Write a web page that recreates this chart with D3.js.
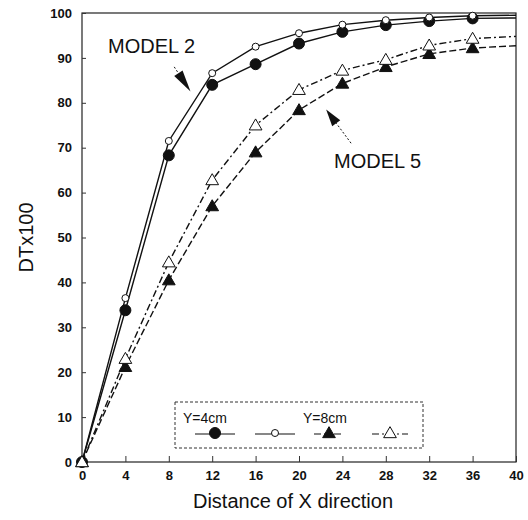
<!DOCTYPE html>
<html>
<head>
<meta charset="utf-8">
<script src="https://cdn.jsdelivr.net/npm/d3@7"></script>
<style>
  body { margin: 0; background: #fff; }
  text { font-family: "Liberation Sans", Arial, sans-serif; fill: #111; }
</style>
</head>
<body>
<svg id="chart"></svg>
<script>
const xValues = [0, 4, 8, 12, 16, 20, 24, 28, 32, 36, 40];
const m2y4 = [0, 33.8, 68.3, 84, 88.6, 93.2, 95.8, 97.3, 98.2, 98.8, 98.9];
const m2y8 = [0, 36.5, 71.5, 86.6, 92.5, 95.5, 97.4, 98.4, 99, 99.4, 99.5];
const m5y4 = [0, 21.2, 40.5, 57, 69, 78.4, 84.3, 88, 90.9, 92.2, 92.7];
const m5y8 = [0, 23, 44.5, 62.8, 75, 82.9, 87.2, 89.6, 92.8, 94.3, 94.8];
const xTicks = [0, 4, 8, 12, 16, 20, 24, 28, 32, 36, 40];
const yTicks = [0, 10, 20, 30, 40, 50, 60, 70, 80, 90, 100];

const width = 528, height = 520;
const margin = { top: 13, right: 12, bottom: 58, left: 82 };

const svg = d3.select("#chart").attr("width", width).attr("height", height);

const x = d3.scaleLinear().domain([0, 40]).range([margin.left, width - margin.right]);
const y = d3.scaleLinear().domain([0, 100]).range([height - margin.bottom, margin.top]);

// frame
svg.append("rect")
  .attr("x", x(0)).attr("y", y(100))
  .attr("width", x(40) - x(0)).attr("height", y(0) - y(100))
  .attr("fill", "none").attr("stroke", "#222").attr("stroke-width", 1.2);

// axes with inward ticks
const xAxis = svg.append("g")
  .attr("transform", `translate(0,${y(0)})`)
  .call(d3.axisBottom(x).tickValues(xTicks).tickSizeInner(-6).tickSizeOuter(0).tickPadding(9));
const yAxis = svg.append("g")
  .attr("transform", `translate(${x(0)},0)`)
  .call(d3.axisLeft(y).tickValues(yTicks).tickSizeInner(-4).tickSizeOuter(0).tickPadding(10));
[xAxis, yAxis].forEach(g => {
  g.select(".domain").remove();
  g.selectAll("line").attr("stroke", "#333");
  g.selectAll("text").attr("font-size", 13).attr("font-weight", "bold").attr("fill", "#111");
});

const series = [
  { values: m2y4, dash: null, marker: "circle", filled: true },
  { values: m2y8, dash: null, marker: "circle", filled: false },
  { values: m5y4, dash: "7,3", marker: "triangle", filled: true },
  { values: m5y8, dash: "7,3,2,3", marker: "triangle", filled: false }
];

const line = d3.line().x(d => x(d[0])).y(d => y(d[1]));
const triSym = d3.symbol().type(d3.symbolTriangle).size(70);

function drawMarker(g, s, px, py, scale) {
  if (s.marker === "circle") {
    g.append("circle").attr("cx", px).attr("cy", py)
      .attr("r", s.filled ? 5.5 * scale : 3.5 * scale)
      .attr("fill", s.filled ? "#111" : "#fff")
      .attr("stroke", "#111").attr("stroke-width", 1);
  } else {
    g.append("path").attr("d", triSym)
      .attr("transform", `translate(${px},${py + 1}) scale(${scale})`)
      .attr("fill", s.filled ? "#111" : "#fff")
      .attr("stroke", "#111").attr("stroke-width", 1);
  }
}

series.forEach(s => {
  const pts = xValues.map((xv, i) => [xv, s.values[i]]);
  svg.append("path").datum(pts)
    .attr("d", line)
    .attr("fill", "none").attr("stroke", "#111").attr("stroke-width", 1.4)
    .attr("stroke-dasharray", s.dash);
});
series.forEach(s => {
  const g = svg.append("g");
  xValues.forEach((xv, i) => {
    if (xv === 40) return;
    drawMarker(g, s, x(xv), y(s.values[i]), 1);
  });
});

// annotation arrows: dotted tail + long filled head
function arrow(tail, tip, headLen, headHalf) {
  const dx = tip[0] - tail[0], dy = tip[1] - tail[1];
  const len = Math.hypot(dx, dy), ux = dx / len, uy = dy / len;
  const bx = tip[0] - ux * headLen, by = tip[1] - uy * headLen;
  svg.append("line")
    .attr("x1", tail[0]).attr("y1", tail[1]).attr("x2", bx).attr("y2", by)
    .attr("stroke", "#111").attr("stroke-width", 1).attr("stroke-dasharray", "2,2");
  svg.append("path")
    .attr("d", `M${tip[0]},${tip[1]} L${bx - uy * headHalf},${by + ux * headHalf} L${bx + uy * headHalf},${by - ux * headHalf} Z`)
    .attr("fill", "#111");
}

svg.append("text").attr("x", 108).attr("y", 53)
  .attr("font-size", 20).text("MODEL 2");
arrow([x(8.5), y(88)], [x(10), y(82.5)], 22, 5);

svg.append("text").attr("x", 334).attr("y", 168)
  .attr("font-size", 20).text("MODEL 5");
arrow([x(24.8), y(71)], [x(22.5), y(78.5)], 17, 5);

// axis titles
svg.append("text")
  .attr("transform", `translate(33,${(y(0) + y(100)) / 2}) rotate(-90)`)
  .attr("text-anchor", "middle").attr("font-size", 20).text("DTx100");
svg.append("text")
  .attr("x", (x(0) + x(40)) / 2 - 6).attr("y", 508)
  .attr("text-anchor", "middle").attr("font-size", 20).text("Distance of X direction");

// legend
const lg = svg.append("g");
lg.append("rect").attr("x", 175).attr("y", 402).attr("width", 248).attr("height", 46)
  .attr("fill", "#fff").attr("stroke", "#333").attr("stroke-width", 1)
  .attr("stroke-dasharray", "3,2");
lg.append("text").attr("x", 183).attr("y", 423).attr("font-size", 14).text("Y=4cm");
lg.append("text").attr("x", 303).attr("y", 423).attr("font-size", 14).text("Y=8cm");
const legendItems = [
  { s: series[0], x1: 195, x2: 235 },
  { s: series[1], x1: 255, x2: 295 },
  { s: series[2], x1: 314, x2: 344 },
  { s: series[3], x1: 372, x2: 408 }
];
legendItems.forEach(d => {
  lg.append("line").attr("x1", d.x1).attr("x2", d.x2).attr("y1", 434).attr("y2", 434)
    .attr("stroke", "#111").attr("stroke-width", 1.2)
    .attr("stroke-dasharray", d.s.dash);
  drawMarker(lg, d.s, (d.x1 + d.x2) / 2, 433, 1);
});
</script>
</body>
</html>
